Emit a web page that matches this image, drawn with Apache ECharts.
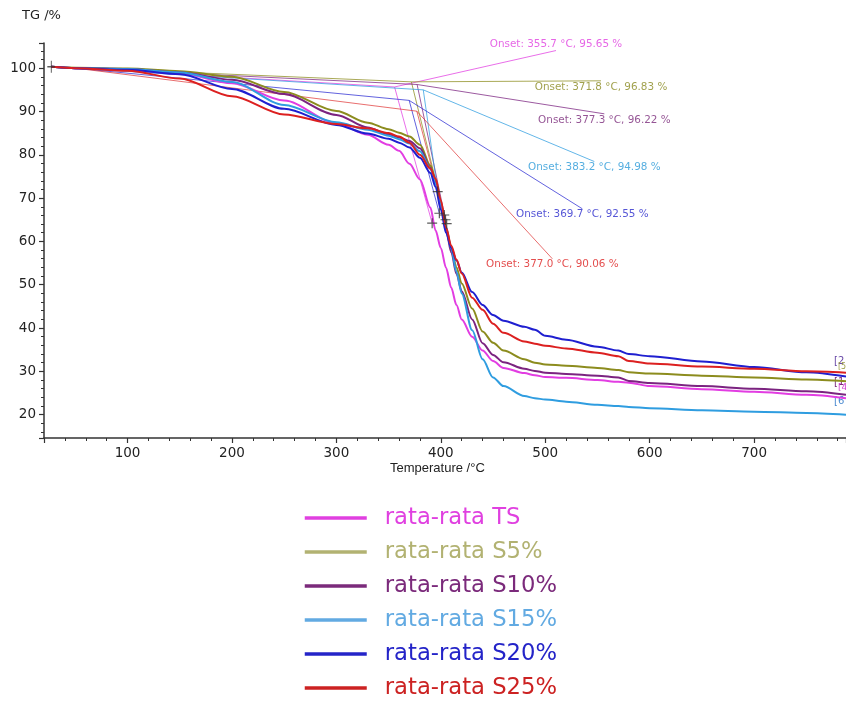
<!DOCTYPE html>
<html><head><meta charset="utf-8">
<script src="https://cdn.jsdelivr.net/npm/echarts@6/dist/echarts.min.js"></script>
<style>html,body{margin:0;padding:0;background:#fff}#c{width:846px;height:702px}</style>
</head><body><div id="c"></div>
<script>
// ---- data ----
const temps = [27,50,100,150,200,250,300,330,350,360,370,380,390,395,400,405,410,415,420,430,440,450,460,480,490,500,520,550,570,580,600,650,700,750,788];
const tgTS  = [100.3,100.0,99.6,98.8,96.5,92.5,87.3,84.6,82.3,80.9,77.9,74.3,67.8,62.5,58.5,53.9,49.3,45.3,42.0,38.0,34.8,32.4,30.8,29.6,29.1,28.7,28.5,28.0,27.6,27.4,26.6,25.9,25.3,24.6,23.8];
const tgS5  = [100.3,100.1,99.9,99.3,98.0,94.5,90.1,87.4,85.9,85.1,84.2,82.3,77.5,74.0,68.8,63.0,58.5,54.0,50.3,44.5,39.2,36.6,34.8,32.8,32.0,31.6,31.3,30.8,30.3,29.8,29.5,29.0,28.6,28.1,27.7];
const tgS10 = [100.3,100.0,99.8,99.0,97.3,94.0,89.2,86.3,84.7,84.0,83.2,81.5,77.0,73.5,68.3,62.7,57.5,52.5,48.5,42.0,36.5,33.8,32.1,30.6,30.1,29.7,29.4,29.0,28.6,27.8,27.3,26.6,26.0,25.4,24.6];
const tgS15 = [100.3,100.0,99.8,99.0,96.8,91.5,87.5,85.8,84.4,83.6,82.6,80.8,76.8,73.2,68.3,63.3,58.3,53.0,48.0,39.5,32.8,28.6,26.6,24.3,23.8,23.5,23.0,22.3,22.0,21.8,21.5,21.0,20.7,20.4,20.0];
const tgS20 = [100.3,100.0,99.6,98.6,95.2,90.6,86.9,84.9,83.7,82.8,81.7,79.3,75.8,72.6,67.3,62.0,58.5,55.6,52.8,48.3,45.3,43.0,41.7,40.3,39.6,38.2,37.3,35.7,34.8,34.0,33.5,32.3,31.0,29.8,28.8];
const tgS25 = [100.3,100.0,99.4,97.6,93.5,89.3,87.1,86.1,85.0,84.2,82.8,80.0,76.8,74.5,69.5,63.2,59.0,55.8,52.6,47.0,44.2,41.0,38.9,36.9,36.4,35.9,35.3,34.3,33.5,32.4,31.8,31.1,30.6,30.0,29.7];
const seriesNames = ['rata-rata TS','rata-rata S5%','rata-rata S10%','rata-rata S15%','rata-rata S20%','rata-rata S25%'];
const seriesValues = [tgTS, tgS5, tgS10, tgS15, tgS20, tgS25];

// onset evaluation (tangent construction)
const onsetT  = [355.7, 371.8, 377.3, 383.2, 369.7, 377.0];
const onsetV  = [95.65, 96.83, 96.22, 94.98, 92.55, 90.06];
const baseT   = [50, 50, 50, 50, 50, 50];
const baseV   = [100.0, 100.1, 100.0, 100.0, 100.0, 100.0];
const inflT   = [391.7, 403.3, 404.5, 397.0, 398.6, 405.6];
const inflV   = [64.2, 66.1, 65.0, 71.5, 66.5, 64.1];
const leaderT = [510.3, 553.4, 556.6, 547.0, 535.5, 506.8];
const leaderV = [104.06, 97.07, 89.45, 78.44, 67.53, 55.99];
const startMarkT = [27];
const startMarkV = [100.3];

// ---- styles ----
const curveColors  = ['#e23de2','#8c8c1e','#7b2380','#2f9de0','#1f1fd0','#dc2020'];
const legendColors = ['#e040e0','#b2b272','#7b2a7b','#62aae2','#2424c8','#cc2222'];
const onsetColors  = ['#e040e0','#8a8a20','#7b2a7b','#2a9ad8','#2a2acc','#dd2222'];
const thinColors   = ['rgba(226,61,226,0.75)','rgba(140,140,30,0.75)','rgba(123,35,128,0.75)','rgba(47,157,224,0.75)','rgba(31,31,208,0.7)','rgba(220,32,32,0.65)'];
const FONT = 'DejaVu Sans';

const chart = echarts.init(document.getElementById('c'), null, {renderer:'canvas'});
const series = [];

// tangent construction lines
seriesValues.forEach((_, i) => {
  series.push({
    name: 'tangent' + i, type: 'line', symbol: 'none', silent: true, z: 1,
    lineStyle: {color: thinColors[i], width: 1},
    data: [[baseT[i], baseV[i]], [onsetT[i], onsetV[i]], [inflT[i], inflV[i]]]
  });
  series.push({
    name: 'leader' + i, type: 'line', symbol: 'none', silent: true, z: 1,
    lineStyle: {color: thinColors[i], width: 1},
    data: [[onsetT[i], onsetV[i]], [leaderT[i], leaderV[i]]]
  });
  series.push({
    name: 'onsetLabel' + i, type: 'scatter', symbolSize: 0, silent: true, z: 5,
    data: [[leaderT[i], leaderV[i]]],
    label: {
      show: true, position: i === 0 ? 'top' : 'bottom', distance: 1,
      color: onsetColors[i], fontSize: 10.4, fontFamily: FONT,
      formatter: () => 'Onset: ' + onsetT[i].toFixed(1) + ' °C, ' + onsetV[i].toFixed(2) + ' %'
    }
  });
});

// main curves
seriesValues.forEach((vals, i) => {
  series.push({
    name: seriesNames[i], type: 'line', symbol: 'none', z: 3,
    smooth: 0.3, smoothMonotone: 'x',
    lineStyle: {color: curveColors[i], width: 2},
    itemStyle: {color: curveColors[i]},
    data: temps.map((t, k) => [t, vals[k]])
  });
});

// "+" markers
const plus = 'path://M4.4,0h1.2v4.4h4.4v1.2h-4.4v4.4h-1.2v-4.4h-4.4v-1.2h4.4z';
series.push({
  name: 'inflection', type: 'scatter', symbol: plus, symbolSize: 10, silent: true, z: 6,
  itemStyle: {color: '#333'},
  data: inflT.map((t, i) => [t, inflV[i]])
});
series.push({
  name: 'startMark', type: 'scatter', symbol: plus, symbolSize: [8, 12], silent: true, z: 6,
  itemStyle: {color: '#333'},
  data: startMarkT.map((t, i) => [t, startMarkV[i]])
});

const axisCommon = {
  axisLine: {show: true, lineStyle: {color: '#333', width: 1.5}},
  axisTick: {show: true, length: 5, lineStyle: {color: '#333', width: 1.2}},
  minorTick: {show: true, splitNumber: 5, length: 3, lineStyle: {color: '#333', width: 1}},
  splitLine: {show: false},
  axisLabel: {showMinLabel: false, showMaxLabel: false, color: '#222', fontSize: 13.5, fontFamily: FONT, margin: 8}
};

chart.setOption({
  animation: false,
  backgroundColor: '#fff',
  grid: {left: 44, right: 0, top: 43, bottom: 264, containLabel: false},
  xAxis: Object.assign({type: 'value', min: 20, max: 788, splitNumber: 8}, axisCommon),
  yAxis: Object.assign({type: 'value', min: 14.62, max: 105.8, splitNumber: 9}, axisCommon),
  legend: {
    orient: 'vertical', left: 303, top: 506, height: 196, padding: 0,
    itemWidth: 62, itemHeight: 14, itemGap: 10,
    selectedMode: false,
    itemStyle: {opacity: 0},
    textStyle: {fontSize: 22.7, fontFamily: FONT, lineHeight: 24, padding: [0, 0, 0, 13]},
    data: seriesNames.map((n, i) => ({
      name: n,
      textStyle: {color: legendColors[i]},
      lineStyle: {color: legendColors[i], width: 3.5},
      itemStyle: {color: 'transparent', opacity: 0, borderWidth: 0}
    }))
  },
  graphic: [
    {type: 'text', left: 22, top: 9, style: {text: 'TG /%', fontSize: 13, fontFamily: FONT, fill: '#222'}},
    {type: 'text', left: 390, top: 462, style: {text: 'Temperature /°C', fontSize: 13, fontFamily: 'Liberation Sans', fill: '#222'}},
    {type: 'text', left: 834, top: 356, style: {text: '[2', fontSize: 10, fontFamily: FONT, fill: '#6a4aa8'}},
    {type: 'text', left: 838, top: 363, style: {text: '[5', fontSize: 8, fontFamily: FONT, fill: '#a0a048'}},
    {type: 'text', left: 834, top: 377, style: {text: '[1', fontSize: 10, fontFamily: FONT, fill: '#7b2a7b'}},
    {type: 'text', left: 838, top: 383, style: {text: '[4', fontSize: 9, fontFamily: FONT, fill: '#d040d0'}},
    {type: 'text', left: 834, top: 396, style: {text: '[6', fontSize: 10, fontFamily: FONT, fill: '#4a8ad0'}}
  ],
  series: series
});
</script>
</body></html>
